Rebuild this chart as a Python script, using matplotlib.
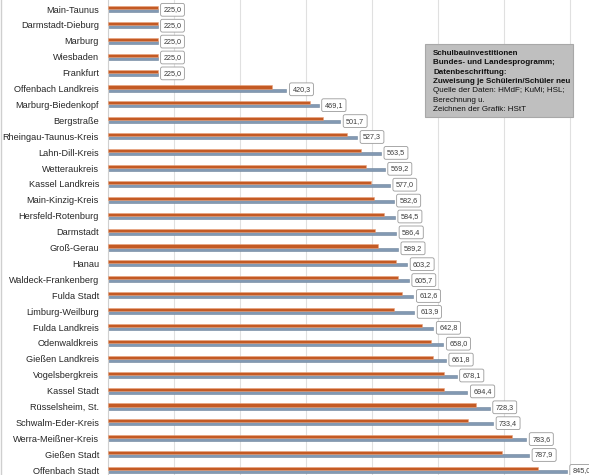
import matplotlib
matplotlib.use("Agg")
import matplotlib.pyplot as plt
from matplotlib.patches import Rectangle

categories = ["Main-Taunus", "Darmstadt-Dieburg", "Marburg", "Wiesbaden", "Frankfurt",
              "Offenbach Landkreis", "Marburg-Biedenkopf", "Bergstraße", "Rheingau-Taunus-Kreis",
              "Lahn-Dill-Kreis", "Wetteraukreis", "Kassel Landkreis", "Main-Kinzig-Kreis",
              "Hersfeld-Rotenburg", "Darmstadt", "Groß-Gerau", "Hanau", "Waldeck-Frankenberg",
              "Fulda Stadt", "Limburg-Weilburg", "Fulda Landkreis", "Odenwaldkreis",
              "Gießen Landkreis", "Vogelsbergkreis", "Kassel Stadt", "Rüsselsheim, St.",
              "Schwalm-Eder-Kreis", "Werra-Meißner-Kreis", "Gießen Stadt", "Offenbach Stadt"]
orange_vals = [225, 225, 225, 225, 225, 398, 456, 476, 512.6, 534, 541, 548, 553, 568,
               554.6, 558.6, 586, 589, 595, 583, 625, 639, 642.9, 659, 659, 707.6, 696,
               761.6, 747.5, 802]
blue_vals = [225.0, 225.0, 225.0, 225.0, 225.0, 420.3, 469.1, 501.7, 527.3, 563.5, 569.2,
             577.0, 582.6, 584.5, 586.4, 589.2, 603.2, 605.7, 612.6, 613.9, 642.8, 658.0,
             661.8, 678.1, 694.4, 728.3, 733.4, 783.6, 787.9, 845.0]
grid_ticks = [150, 250, 350, 450, 550, 650, 750, 850]
note_lines = ["Schulbauinvestitionen", "Bundes- und Landesprogramm;", "Datenbeschriftung:",
              "Zuweisung je Schülerin/Schüler neu", "Quelle der Daten: HMdF; KuMi; HSL;",
              "Berechnung u.", "Zeichnen der Grafik: HStT"]
note_bold = [True, True, True, True, False, False, False]

plt.rcParams['font.family'] = ['Liberation Sans', 'DejaVu Sans']

W, H = 589, 475
fig = plt.figure(figsize=(W / 100, H / 100), dpi=100)
fig.patch.set_facecolor("white")

x_left_px = 108
px_per_unit = 0.66
xmin = 150
xmax = xmin + (W - x_left_px) / px_per_unit
row0_px = 9
row_step = 15.9
ytop = -row0_px / row_step
ybot = (H - row0_px) / row_step

ax = fig.add_axes([x_left_px / W, 0, 1 - x_left_px / W, 1])
ax.set_xlim(xmin, xmax)
ax.set_ylim(ybot, ytop)

ypos = list(range(len(categories)))
h = 0.19
off = 0.095
ax.barh([y - off for y in ypos], [v - xmin for v in orange_vals], left=xmin, height=h,
        color="#c45a24", edgecolor="#eaa47e", linewidth=0.4, zorder=3)
ax.barh([y + off for y in ypos], [v - xmin for v in blue_vals], left=xmin, height=h,
        color="#8299b3", edgecolor="#6f849c", linewidth=0.4, zorder=2)

for y, v in zip(ypos, blue_vals):
    ax.annotate(f"{v:.1f}".replace(".", ","), xy=(v, y + 0.05), xytext=(6, 0),
                textcoords="offset pixels", ha="left", va="center", fontsize=5.2,
                color="#3a3a3a", zorder=5, annotation_clip=False,
                bbox=dict(boxstyle="round,pad=0.4,rounding_size=0.25", fc="white",
                          ec="#9a9a9a", lw=0.6))

ax.set_xticks(grid_ticks)
ax.set_xticklabels([])
ax.tick_params(axis="x", length=0)
ax.xaxis.grid(True, color="#e0e0e0", linewidth=0.8, zorder=0)
ax.set_axisbelow(True)
ax.set_yticks(ypos)
ax.set_yticklabels(categories, fontsize=6.6, color="#262626")
ax.tick_params(axis="y", length=0, pad=6.5)
for s in ["top", "right", "bottom"]:
    ax.spines[s].set_visible(False)
ax.spines["left"].set_color("#d0d0d0")
ax.spines["left"].set_linewidth(0.8)

# annotation box
bx0, by0, bx1, by1 = 425, 44, 573, 117
fig.patches.append(Rectangle((bx0 / W, 1 - by1 / H), (bx1 - bx0) / W, (by1 - by0) / H,
                             transform=fig.transFigure, facecolor="#bfbfbf",
                             edgecolor="#a8a8a8", linewidth=0.8, zorder=10))
for i, (line, b) in enumerate(zip(note_lines, note_bold)):
    fig.text(433 / W, 1 - (53.5 + i * 9.3) / H, line, fontsize=5.8,
             fontweight="bold" if b else "normal", color="#111111",
             ha="left", va="center", zorder=11)

# thin left border line of the figure
fig.add_artist(plt.Line2D([0.5 / W, 0.5 / W], [0, 1], transform=fig.transFigure,
                          color="#cfcfcf", linewidth=1))

fig.savefig("out.png", dpi=100)
